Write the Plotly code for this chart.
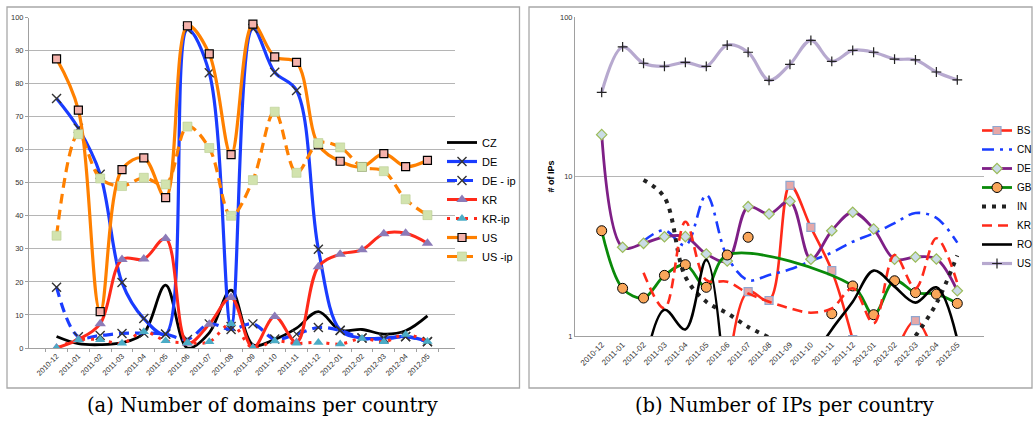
import plotly.graph_objects as go

W, H = 1033, 425

months = ['2010-12', '2011-01', '2011-02', '2011-03', '2011-04', '2011-05', '2011-06',
          '2011-07', '2011-08', '2011-09', '2011-10', '2011-11', '2011-12', '2012-01',
          '2012-02', '2012-03', '2012-04', '2012-05']

# (a) Number of domains per country
dom_CZ = [3.5, 1.3, 1.0, 1.6, 4.5, 19, 0, 4.6, 17.5, 1, 2.6, 6, 11, 5.4, 5.6, 4.2, 5.2, 9.7]
dom_DE = [75.5, 66.5, 52.6, 19.8, 8.9, 4.2, 96.4, 83.3, 6.5, 96.7, 83.4, 77.9, 29.9, 5.4, 3, 3, 3.5, 2]
dom_DE_ip = [18.4, 3.4, 3.8, 4.4, 4.5, 4.2, 2.6, 7.3, 5.6, 7.3, 2.7, 4.2, 6.2, 5.3, 3.0, 2.7, 3.4, 1.9]
dom_KR = [0, 2.6, 7.3, 26.8, 26.9, 33.1, 1.4, 7.2, 15.3, 0, 9.5, 1.7, 24.6, 28.4, 29.7, 34.6, 34.7, 31.7]
dom_KR_ip = [0, 2.4, 2.5, 1.4, 4.9, 2.2, 1.6, 1.9, 7.3, 0, 2.1, 1.4, 1.7, 1.2, 2.9, 1.9, 4.1, 2.0]
dom_US = [87.5, 72, 11, 54, 57.5, 45.5, 97.5, 89, 58.5, 98, 88.1, 86.4, 61.5, 56.5, 54.8, 58.8, 54.9, 56.8]
dom_US_ip = [34, 64.7, 51.3, 49, 51.5, 49.5, 67, 60.5, 40, 50.8, 71.5, 53, 62, 60.7, 54.8, 53.5, 45, 40.2]

# (b) Number of IPs per country (log scale)
ip_BS = [None, None, None, None, None, None, 0.5, 1.9, 1.67, 8.8, 4.8, 2.57, 0.95, None, 0.75, 1.25, 0.7, None]
ip_CN = [None, None, 3.94, 4.6, 3.7, 7.65, 3.14, 2.24, 2.41, 2.62, 2.95, 3.33, 3.9, 4.4, 5.1, 5.9, 5.5, 3.85]
ip_DE = [18.3, 3.6, 3.81, 4.19, 4.2, 3.27, 2.95, 6.47, 5.82, 7.0, 3.03, 4.57, 5.97, 4.69, 3.03, 3.13, 3.04, 1.92]
ip_GB = [4.57, 1.99, 1.73, 2.40, 2.80, 2.02, 3.22, None, None, None, None, None, 2.06, 1.36, 2.22, 1.87, 1.83, 1.60]
ip_GB_extra = [None, None, None, None, None, None, None, 4.16, None, None, None, 1.38, None, None, None, None, None, None]
ip_IN = [None, None, 9.5, 7.4, 2.35, 1.64, 1.39, 1.14, 0.98, None, None, None, None, None, None, 1.0, 1.6, 3.2]
ip_KR = [None, None, 2.49, 1.49, 5.2, 2.24, 2.19, 1.85, 1.64, 1.49, 1.40, 1.49, 1.99, 1.2, 3.22, 1.99, 4.1, 2.14]
ip_RO = [None, None, 0.6, 1.46, 1.10, 3.0, 0.3, None, None, None, 0.7, 1.1, 1.64, 2.57, 2.04, 1.62, 2.02, 0.95]
ip_US = [33.7, 64.9, 51.3, 49.1, 52, 49, 66.7, 60.1, 40.1, 50.5, 71.4, 52.7, 61.8, 60.1, 54.5, 53.8, 45.2, 40.3]

y_ticks_a = [0, 10, 20, 30, 40, 50, 60, 70, 80, 90, 100]
y_ticks_b = [1, 10, 100]

ORANGE = '#FF8000'
BLUE = '#1A3CFF'
RED = '#FF2A1A'
GRID = '#B5B5B5'
AXIS = '#A0A0A0'
FRAME = '#A8A8A8'
SANS = 'Liberation Sans, Arial, sans-serif'

fig = go.Figure()


def add(y, name, color, width=3, dash='solid', marker=None, xa='x', ya='y', legend='legend',
        connectgaps=False, mode=None, showlegend=True):
    kw = dict(x=months, y=y, name=name, xaxis=xa, yaxis=ya, legend=legend,
              connectgaps=connectgaps, showlegend=showlegend)
    if mode is None:
        mode = 'lines+markers' if marker else 'lines'
    kw['mode'] = mode
    kw['line'] = dict(color=color, width=width, dash=dash, shape='spline', smoothing=1.0)
    if marker:
        kw['marker'] = marker
    fig.add_trace(go.Scatter(**kw))


xmark = dict(symbol='x-thin-open', size=9, color='#333333', line=dict(width=1.4, color='#333333'))

add(dom_CZ, 'CZ', 'black', 2.8)
add(dom_DE, 'DE', BLUE, 3.2, marker=xmark)
add(dom_DE_ip, 'DE - ip', BLUE, 3.2, dash='10px,6px', marker=xmark)
add(dom_KR, 'KR', RED, 3, marker=dict(symbol='triangle-up', size=10, color='#8C7BB8', line=dict(width=0)))
add(dom_KR_ip, 'KR-ip', RED, 3, dash='3px,6px',
    marker=dict(symbol='triangle-up', size=9, color='#4BACC6', line=dict(width=0)))
add(dom_US, 'US', ORANGE, 3.2, marker=dict(symbol='square', size=8, color='#F4B2AC', line=dict(width=1.2, color='black')))
add(dom_US_ip, 'US -ip', ORANGE, 3.2, dash='10px,6px',
    marker=dict(symbol='square', size=9, color='#D2E3AE', line=dict(width=0.6, color='#B8CC90')))

R = dict(xa='x2', ya='y2', legend='legend2')
add(ip_BS, 'BS', RED, 2.6, marker=dict(symbol='square', size=8, color='#E6A8A8', line=dict(width=1.2, color='#8FA6CF')), **R)
add(ip_CN, 'CN', BLUE, 2.6, dash='12px,6px,3px,6px', **R)
add(ip_DE, 'DE', '#7E1F86', 2.8, marker=dict(symbol='diamond', size=8, color='#CADCE6', line=dict(width=1.2, color='#9BBB59')), **R)
add(ip_GB, 'GB', '#0A8A0A', 2.8, connectgaps=True,
    marker=dict(symbol='circle', size=10, color='#F9A65A', line=dict(width=1, color='black')), **R)
add(ip_GB_extra, 'GB', '#0A8A0A', 2.8, mode='markers', showlegend=False,
    marker=dict(symbol='circle', size=10, color='#F9A65A', line=dict(width=1, color='black')), **R)
add(ip_IN, 'IN', '#222222', 4, dash='4px,6px', **R)
add(ip_KR, 'KR', RED, 2.6, dash='10px,6px', **R)
add(ip_RO, 'RO', 'black', 2.6, **R)
add(ip_US, 'US', '#B7A9CF', 3.2, marker=dict(symbol='cross-thin-open', size=7, color='#222222', line=dict(width=1.2, color='#222222')), **R)

tickfont = dict(family=SANS, size=7.5, color='#333333')

fig.update_layout(
    width=W, height=H,
    margin=dict(l=0, r=0, t=0, b=0, autoexpand=False),
    paper_bgcolor='white', plot_bgcolor='white',
    xaxis=dict(domain=[29 / W, 455 / W], type='category', categoryorder='array', categoryarray=months,
               tickangle=-45, tickfont=tickfont, showgrid=False, showline=True, linecolor=AXIS,
               ticks='outside', ticklen=3, tickcolor=AXIS, tickson='boundaries', anchor='y'),
    yaxis=dict(domain=[1 - 348 / H, 1 - 17.5 / H], range=[0, 100], tickvals=y_ticks_a,
               tickfont=tickfont, showgrid=True, gridcolor=GRID, gridwidth=1.3, zeroline=False,
               showline=True, linecolor=AXIS, ticks='outside', ticklen=3, tickcolor=AXIS, anchor='x'),
    xaxis2=dict(domain=[575 / W, 984 / W], type='category', categoryorder='array', categoryarray=months,
                tickangle=-45, tickfont=dict(family=SANS, size=8, color='#333333'), showgrid=False,
                showline=True, linecolor=AXIS, ticks='', anchor='y2'),
    yaxis2=dict(domain=[1 - 336 / H, 1 - 17 / H], type='log', range=[0, 2], tickvals=y_ticks_b,
                ticktext=[str(v) for v in y_ticks_b], tickfont=tickfont, showgrid=True, gridcolor=GRID,
                gridwidth=1.3, zeroline=False, showline=True, linecolor=AXIS, anchor='x2',
                title=dict(text='# of IPs', font=dict(family=SANS, size=9, color='black', weight='bold'),
                           standoff=3)),
    legend=dict(x=442 / W, y=1 - 128 / H, xanchor='left', yanchor='top', itemwidth=30,
                font=dict(family=SANS, size=11, color='black'), bgcolor='rgba(0,0,0,0)',
                tracegroupgap=0),
    legend2=dict(x=977 / W, y=1 - 116 / H, xanchor='left', yanchor='top', itemwidth=30,
                 font=dict(family=SANS, size=10, color='black'), bgcolor='rgba(0,0,0,0)',
                 tracegroupgap=0),
    showlegend=True,
    shapes=[
        dict(type='rect', xref='paper', yref='paper', x0=7 / W, x1=519.5 / W, y0=1 - 388 / H, y1=1 - 7 / H,
             line=dict(color=FRAME, width=1.3)),
        dict(type='rect', xref='paper', yref='paper', x0=529 / W, x1=1032 / W, y0=1 - 388 / H, y1=1 - 7 / H,
             line=dict(color=FRAME, width=1.3)),
    ],
    annotations=[
        dict(text='(a) Number of domains per country', xref='paper', yref='paper', x=262 / W, y=1 - 405 / H,
             xanchor='center', yanchor='middle', showarrow=False,
             font=dict(family='DejaVu Serif, serif', size=19.5, color='black')),
        dict(text='(b) Number of IPs per country', xref='paper', yref='paper', x=784 / W, y=1 - 405 / H,
             xanchor='center', yanchor='middle', showarrow=False,
             font=dict(family='DejaVu Serif, serif', size=19.5, color='black')),
    ],
)

fig.write_html('out.html', config={'displayModeBar': False},
               post_script="document.body.style.margin='0';document.body.style.overflow='hidden';")
